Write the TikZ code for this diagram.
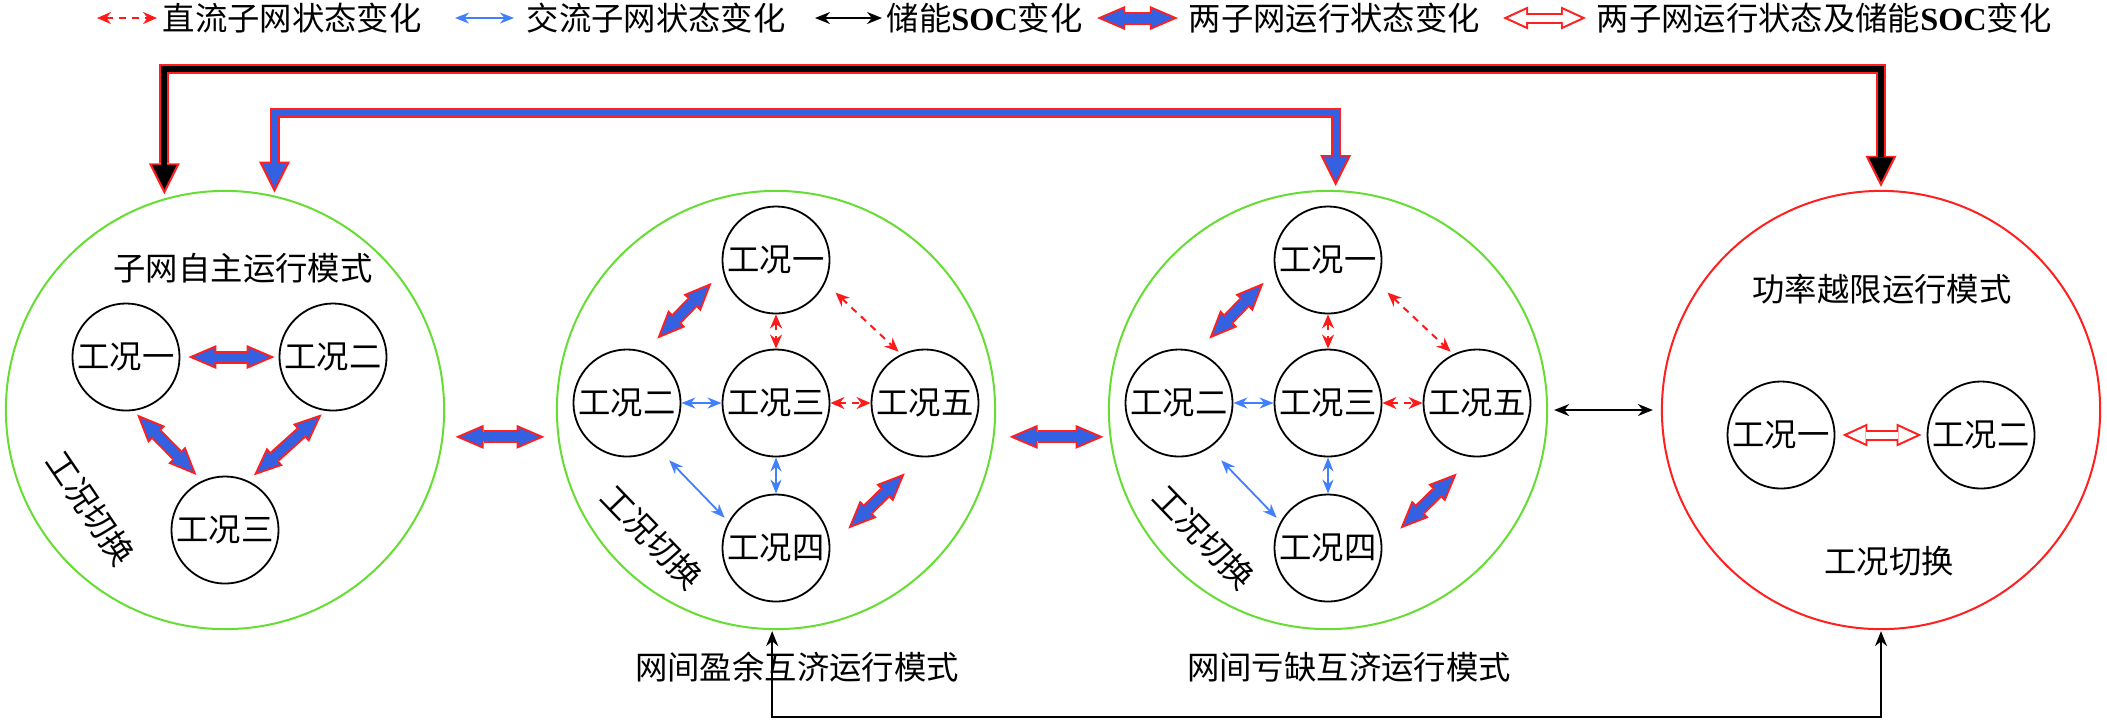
\documentclass[tikz,border=0pt]{standalone}
\usepackage{fontspec}
\setmainfont{Liberation Serif}
\newfontfamily\cjkfont{Noto Sans CJK SC}
\usetikzlibrary{arrows.meta}
\definecolor{modegreen}{HTML}{66DD33}
\definecolor{limitred}{HTML}{FF1F1F}
\definecolor{fatblue}{HTML}{3461E2}
\definecolor{acblue}{HTML}{4080FF}
\definecolor{dcred}{HTML}{FF1A1A}
\newcommand{\socmark}{{\rmfamily\bfseries SOC}}
% 粗箭头：先画红色外轮廓，再画内部填充（内层两端多缩进 0.05cm）
\newcommand{\fatlink}[4]{% #1 类型, #2 起点间隙, #3 终点间隙, #4 路径
  \draw[#1 outer, shorten <=#2, shorten >=#3] #4;
  \draw[#1 inner, shorten <=#2+0.05cm, shorten >=#3+0.05cm] #4;
}

\begin{document}
\begin{tikzpicture}[
  x=0.01cm, y=-0.01cm,
  line join=miter,
  txt/.style={font=\cjkfont\fontsize{9.2pt}{11pt}\selectfont, inner sep=0pt},
  modering/.style={circle, draw=modegreen, line width=0.02cm, minimum size=4.38cm, inner sep=0pt},
  casering/.style={circle, draw=black, line width=0.018cm, minimum size=1.07cm, inner sep=0pt, txt},
  % 细箭头
  dcT/.tip={Stealth[length=0.14cm, width=0.12cm]},
  acT/.tip={Stealth[length=0.14cm, width=0.11cm]},
  socT/.tip={Stealth[length=0.15cm, width=0.12cm]},
  dclink/.style={draw=dcred, line width=0.02cm, dash pattern=on 0.07cm off 0.06cm, dcT-dcT},
  aclink/.style={draw=acblue, line width=0.018cm, acT-acT},
  soclink/.style={draw=black, line width=0.016cm, socT-socT},
  % 粗箭头的内外两层
  fbO/.tip={Triangle[length=0.28cm, width=0.24cm, line width=0pt]},
  fbI/.tip={Triangle[length=0.209cm, width=0.179cm, line width=0pt]},
  fhO/.tip={Triangle[length=0.25cm, width=0.23cm, line width=0pt]},
  fhI/.tip={Triangle[length=0.182cm, width=0.168cm, line width=0pt]},
  tkO/.tip={Triangle[length=0.31cm, width=0.31cm, line width=0pt]},
  tkI/.tip={Triangle[length=0.245cm, width=0.245cm, line width=0pt]},
  fb outer/.style={draw=limitred, line width=0.13cm, fbO-fbO},
  fb inner/.style={draw=fatblue, line width=0.09cm, fbI-fbI},
  fh outer/.style={draw=limitred, line width=0.11cm, fhO-fhO},
  fh inner/.style={draw=white, line width=0.07cm, fhI-fhI},
  tk outer/.style={draw=limitred, line width=0.10cm, tkO-tkO},
  tk inner/.style={draw=black, line width=0.06cm, tkI-tkI},
  tb outer/.style={draw=limitred, line width=0.10cm, tkO-tkO},
  tb inner/.style={draw=fatblue, line width=0.06cm, tkI-tkI},
]
\useasboundingbox (0,0) rectangle (2107,723);

% --- 图例
\node[txt, anchor=west] (lg1) at (162,18) {直流子网状态变化};
\node[txt, anchor=west] (lg2) at (526,18) {交流子网状态变化};
\node[txt, anchor=west] (lg3) at (886,18) {储能\socmark 变化};
\node[txt, anchor=west] (lg4) at (1188,18) {两子网运行状态变化};
\node[txt, anchor=west] (lg5) at (1596,18) {两子网运行状态及储能\socmark 变化};
\coordinate (lg1a) at (97,18);
\coordinate (lg2a) at (455,18);
\coordinate (lg3a) at (815,18);
\coordinate (lg4a) at (1097,18);
\coordinate (lg5a) at (1503,18);
\draw[dclink, shorten >=0.05cm] (lg1a) -- (lg1.west);
\draw[aclink, shorten >=0.12cm] (lg2a) -- (lg2.west);
\draw[soclink, shorten >=0.04cm] (lg3a) -- (lg3.west);
\fatlink{fb}{0cm}{0.10cm}{(lg4a) -- (lg4.west)}
\fatlink{fh}{0cm}{0.10cm}{(lg5a) -- (lg5.west)}

% --- 子网自主运行模式
\node[modering] (m1) at (225,410) {};
\node[txt] (cap1) at (243,268) {子网自主运行模式};
\node[txt, rotate=-56] (sw1) at (91,508) {工况切换};
\node[casering] (a1) at (126,357) {工况一};
\node[casering] (a2) at (333,357) {工况二};
\node[casering] (a3) at (225,530) {工况三};
\fatlink{fb}{0.08cm}{0.04cm}{(a1.east) -- (a2.west)}
\fatlink{fb}{0.05cm}{0.08cm}{(a1.-82) -- (a3.115)}
\fatlink{fb}{0.05cm}{0.08cm}{(a2.-98) -- (a3.65)}

% --- 网间盈余 / 亏缺互济运行模式（两圈结构相同）
\foreach \k/\m/\cx/\cap in {b/m2/776/网间盈余互济运行模式, c/m3/1328/网间亏缺互济运行模式} {
  \begin{scope}[shift={(\cx,410)}]
    \node[modering] (\m) at (0,0) {};
    \node[txt] (cap\k) at (21,257) {\cap};
    \node[txt, rotate=-46] (sw\k) at (-124,127) {工况切换};
    \node[casering] (\k1) at (0,-150) {工况一};
    \node[casering] (\k2) at (-149,-7) {工况二};
    \node[casering] (\k3) at (0,-7) {工况三};
    \node[casering] (\k4) at (0,138) {工况四};
    \node[casering] (\k5) at (149,-7) {工况五};
    \draw[dclink] (\k1.south) -- (\k3.north);
    \draw[dclink] (\k3.east) -- (\k5.west);
    \draw[dclink, shorten <=0.14cm, shorten >=0.035cm] (\k1.-25) -- (\k5.116);
    \draw[aclink] (\k2.east) -- (\k3.west);
    \draw[aclink] (\k3.south) -- (\k4.north);
    \draw[aclink, shorten <=0.17cm, shorten >=0.054cm] (\k2.-56) -- (\k4.151);
    \fatlink{fb}{0.18cm}{0.16cm}{(\k2.71) -- (\k1.192)}
    \fatlink{fb}{0.25cm}{0.23cm}{(\k4.2) -- (\k5.-94)}
  \end{scope}
}

% --- 功率越限运行模式
\node[modering, draw=limitred] (m4) at (1881,410) {};
\node[txt] (cap4) at (1882,289) {功率越限运行模式};
\node[txt] (sw4) at (1889,561) {工况切换};
\node[casering] (d1) at (1781,435) {工况一};
\node[casering] (d2) at (1981,435) {工况二};
\fatlink{fh}{0.07cm}{0.05cm}{(d1.east) -- (d2.west)}

% --- 模式之间的切换
\fatlink{fb}{0.12cm}{0.13cm}{(m1.-7) -- (m2.187)}
\fatlink{fb}{0.15cm}{0.06cm}{(m2.-7) -- (m3.187)}
\draw[soclink, shorten <=0.06cm, shorten >=0.08cm] (m3.east) -- (m4.west);

\coordinate (kTop) at (1000,68.5);
\coordinate (bTop) at (800,112.5);
\coordinate (kBot) at (1300,717);
\fatlink{tk}{0.04cm}{0.03cm}{(m1.106) |- (kTop) -| (m4.north)}
\fatlink{tb}{0.03cm}{0.04cm}{(m1.77) |- (bTop) -| (m3.88)}
\draw[soclink, shorten <=0.01cm, shorten >=0.01cm] (m2.-91) |- (kBot) -| (m4.south);
\end{tikzpicture}
\end{document}
